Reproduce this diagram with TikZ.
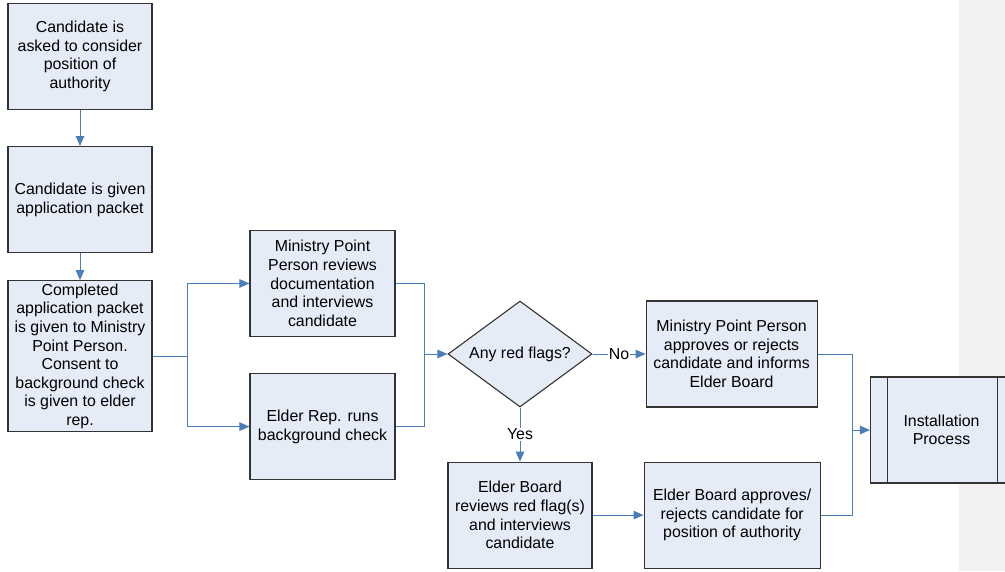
\documentclass[tikz,border=0pt]{standalone}
\usepackage{fontspec}
\setmainfont{Liberation Sans}
\usetikzlibrary{arrows.meta,shapes.geometric,positioning,calc}
\definecolor{boxfill}{HTML}{E6ECF7}
\definecolor{flowblue}{HTML}{4A7EBB}
\definecolor{margingrey}{HTML}{F2F2F2}
\tikzset{
  stepbox/.style={draw=black!80, line width=1.1pt, fill=boxfill, align=center,
    inner sep=0pt, minimum width=144pt, minimum height=106pt,
    font=\fontsize{15.9}{18.6}\selectfont},
  askbox/.style={stepbox, diamond, aspect=1.36, minimum height=106pt},
  flow/.style={draw=flowblue, line width=1pt, -{Triangle[length=10pt,width=8.5pt]}},
  link/.style={draw=flowblue, line width=1pt},
  answer/.style={fill=white, inner sep=1pt, font=\fontsize{15.9}{18.6}\selectfont},
}

\begin{document}
\begin{tikzpicture}[x=1pt, y=-1pt]
        \clip (0,0) rectangle (1005,571);
        \fill[white] (0,0) rectangle (1005,571);
        \fill[margingrey] (959,0) rectangle (1005,571);

        % left column
        \node[stepbox] (a1) at (80,56.5) {Candidate is\\asked to consider\\position of\\authority};
        \node[stepbox, below = 36pt of a1] (a2) {Candidate is given\\application packet};
        \node[stepbox, below = 27pt of a2, minimum height=151pt] (a3) {Completed\\application packet\\is given to Ministry\\Point Person.\\Consent to\\background check\\is given to elder\\rep.};

        % parallel review
        \node[stepbox, minimum width=145pt] (a4) at (322.5,283.5) {Ministry Point\\Person reviews\\documentation\\and interviews\\candidate};
        \node[stepbox, minimum width=145pt, below = 36pt of a4] (a5) {Elder Rep. runs\\background check};

        % decision
        \node[askbox] (flags) at (520,354) {Any red flags?};
        \node[stepbox, minimum width=171pt, right = 53pt of flags] (a6) {Ministry Point Person\\approves or rejects\\candidate and informs\\Elder Board};
        \node[stepbox, below = 54pt of flags] (a7) {Elder Board\\reviews red flag(s)\\and interviews\\candidate};
        \node[stepbox, minimum width=176pt, right = 51pt of a7] (a8) {Elder Board approves/\\rejects candidate for\\position of authority};

        % installation (predefined process)
        \node[stepbox, minimum width=142pt] (inst) at (941.5,430) {Installation\\Process};
        \draw[black!80, line width=1.1pt] ($(inst.north west)+(17.5,0)$) -- ($(inst.south west)+(17.5,0)$);
        \draw[black!80, line width=1.1pt] ($(inst.north east)+(-16,0)$) -- ($(inst.south east)+(-16,0)$);

        \coordinate (split) at ($(a3.east)+(35,0)$);
        \coordinate (merge) at (424,354);
        \coordinate (final) at (852,430);

        \draw[flow] (a1) -- (a2);
        \draw[flow] (a2) -- (a3);
        \draw[link] (a3.east) -- (split);
        \draw[flow] (split) |- (a4.west);
        \draw[flow] (split) |- (a5.west);
        \draw[link] (a4.east) -| (merge);
        \draw[link] (a5.east) -| (merge);
        \draw[flow] (merge) -- (flags.west);
        \draw[flow] (flags.east) -- node[answer] {No} (a6.west);
        \draw[flow] (flags.south) -- node[answer] {Yes} (a7.north);
        \draw[flow] (a7) -- (a8);
        \draw[link] (a6.east) -| (final);
        \draw[link] (a8.east) -| (final);
        \draw[flow] (final) -- (inst.west);
\end{tikzpicture}
\end{document}
